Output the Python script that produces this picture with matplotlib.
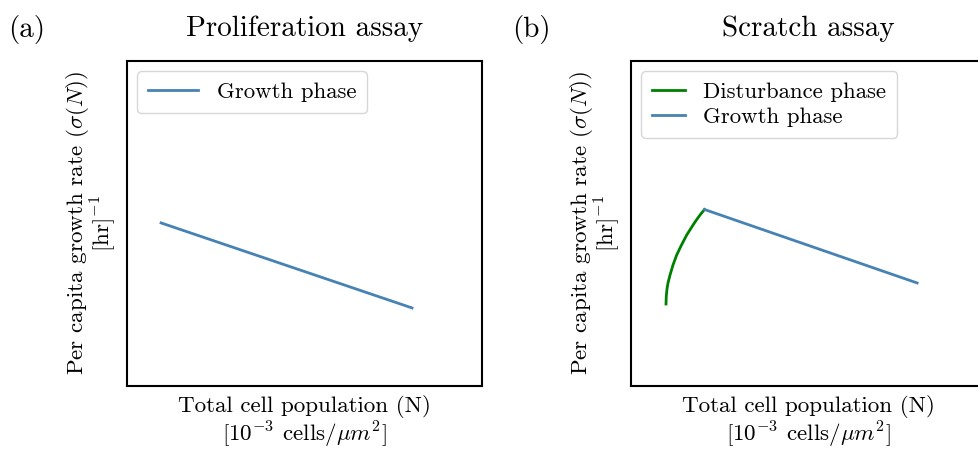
import matplotlib
matplotlib.use("Agg")
import matplotlib.pyplot as plt

plt.rcParams['font.family'] = 'serif'
plt.rcParams['font.serif'] = ['cmr10']
plt.rcParams['mathtext.fontset'] = 'cm'
plt.rcParams['axes.unicode_minus'] = False

# Panel (a): growth phase
a_growth_N = [0.096, 0.803]
a_growth_sigma = [0.501, 0.239]

# Panel (b): disturbance phase then growth phase
b_dist_N = [0.0986, 0.0994, 0.1014, 0.1042, 0.1099, 0.1183, 0.1287, 0.1408,
            0.1569, 0.1803, 0.1944, 0.2070]
b_dist_sigma = [0.2512, 0.2758, 0.2974, 0.3159, 0.3405, 0.3713, 0.4022, 0.4299,
                0.4638, 0.5039, 0.5254, 0.5424]
b_growth_N = [0.2070, 0.806]
b_growth_sigma = [0.5424, 0.316]

titles = ["Proliferation assay", "Scratch assay"]
panel_labels = ["(a)", "(b)"]
xlabel = "Total cell population (N)\n[$10^{-3}$ cells/$\\mu m^2$]"
ylabel = "Per capita growth rate ($\\sigma(N)$)\n[hr]$^{-1}$"

W, H = 979, 450
fig = plt.figure(figsize=(W/100, H/100), dpi=100)

def ax_at(l, r, t, b):
    return fig.add_axes([l/W, 1 - b/H, (r - l)/W, (b - t)/H])

axa = ax_at(127, 482, 61, 385.5)
axb = ax_at(631, 986, 61, 385.5)

blue = '#4682b4'
green = '#008000'

axa.plot(a_growth_N, a_growth_sigma, color=blue, lw=2, label='Growth phase')
axb.plot(b_dist_N, b_dist_sigma, color=green, lw=2, label='Disturbance phase')
axb.plot(b_growth_N, b_growth_sigma, color=blue, lw=2, label='Growth phase')

for ax, t, pl, xc, hl in zip([axa, axb], titles, panel_labels, [8, 512], [2.2, 1.45]):
    ax.set_xlim(0, 1)
    ax.set_ylim(0, 1)
    ax.set_xticks([])
    ax.set_yticks([])
    for s in ax.spines.values():
        s.set_linewidth(1.5)
    ax.set_title(t, fontsize=21, pad=18)
    ax.set_xlabel(xlabel, fontsize=16.6, labelpad=7, linespacing=1.05)
    ax.set_ylabel(ylabel, fontsize=16.6, labelpad=6, linespacing=0.9)
    ax.legend(loc='upper left', fontsize=16.4, handlelength=hl,
              handletextpad=0.8, frameon=True,
              borderpad=0.48, labelspacing=0.2, borderaxespad=0.45)
    fig.text(xc/W, 1 - 30/H, pl, fontsize=21, va='center', ha='left')

fig.savefig("out.png", dpi=100)
